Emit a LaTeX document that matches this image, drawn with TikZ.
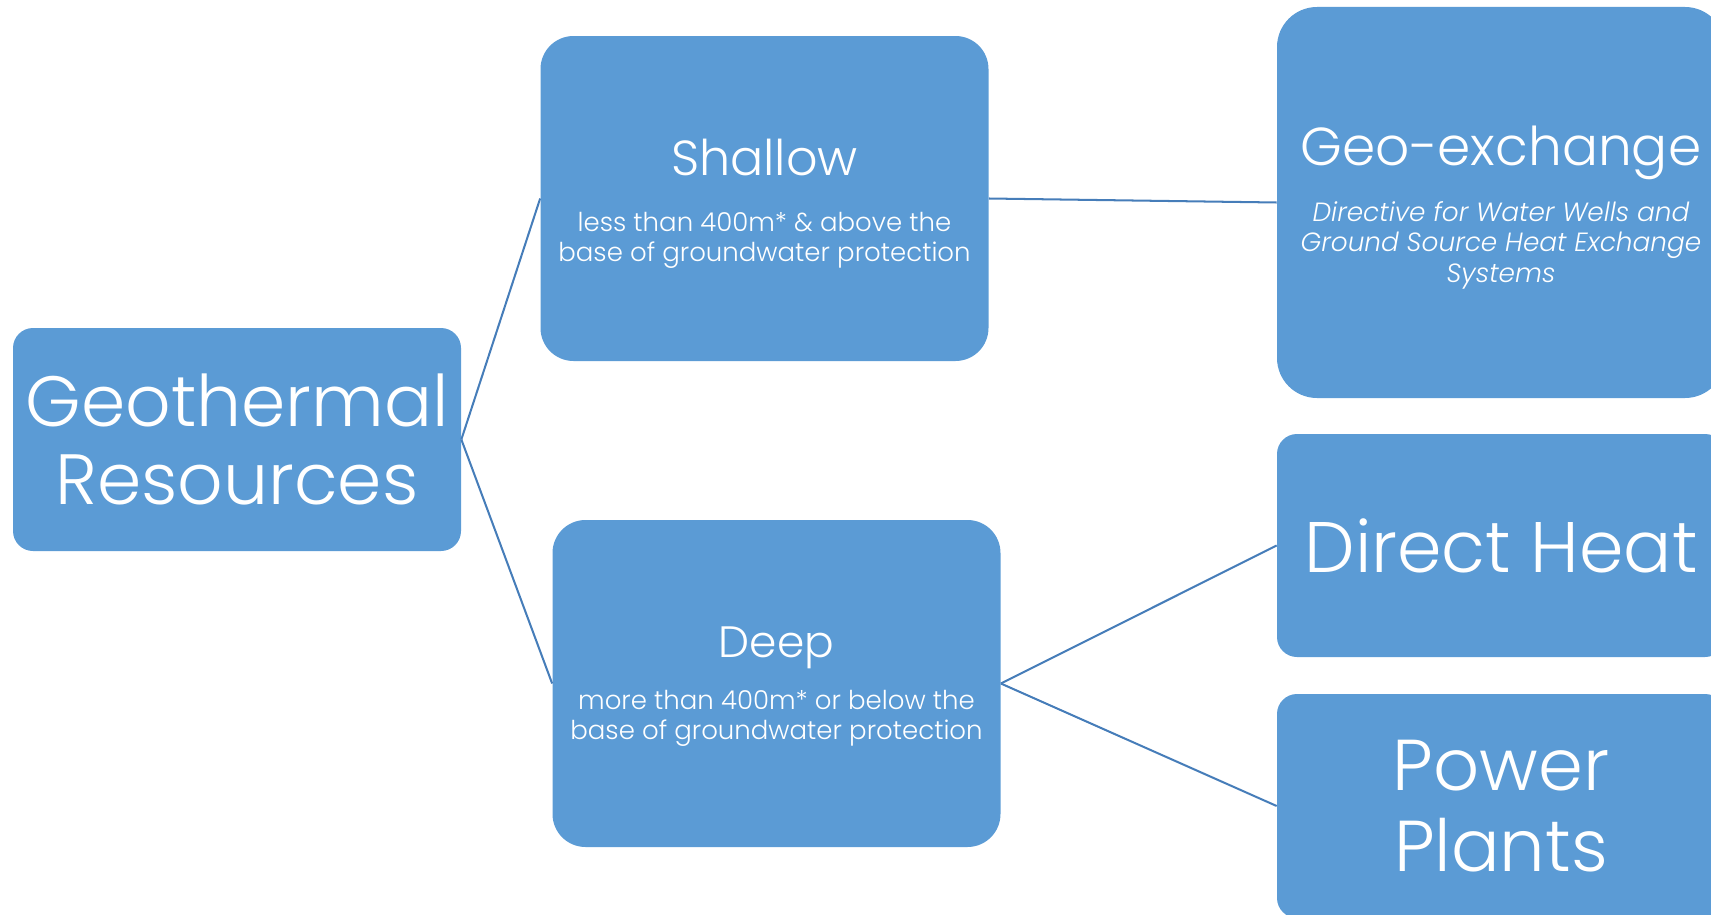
\documentclass[tikz,border=0pt]{standalone}
\usepackage{fontspec}
\setmainfont{Poppins}[UprightFont=* Light,ItalicFont=* Light Italic]
\definecolor{gtblue}{RGB}{91,155,213}
\definecolor{gtline}{RGB}{70,125,185}
\newcommand{\headfont}[1]{\fontsize{#1}{#1}\selectfont}
\usetikzlibrary{positioning}

\begin{document}
\lineskiplimit=-1000pt
\begin{tikzpicture}[
    box/.style={fill=gtblue,text=white,align=center,inner sep=0pt,
                minimum width=8.96cm},
    subfont/.style={font=\fontsize{14.8}{17.3}\selectfont},
    link/.style={draw=gtline,line width=1.15pt}]
  \useasboundingbox (0,0) rectangle (34.22,-18.3);

  \node[box,rounded corners=0.4cm,minimum height=4.46cm,
        font=\fontsize{40.5}{44.4}\selectfont]
        (geo) at (4.74,-8.79) {Geothermal\\Resources};

  \node[box,rounded corners=0.66cm,minimum height=6.5cm,subfont]
        (shallow) at (15.29,-3.97)
        {{\headfont{28}\rule{0pt}{27pt}Shallow}\\[14.2pt]less than 400m* \& above the\\base of groundwater protection};
  \node[box,rounded corners=0.66cm,minimum height=6.54cm,subfont]
        (deep) at (15.53,-13.67)
        {{\headfont{25}\rule{0pt}{21pt}Deep}\\[12pt]more than 400m* or below the\\base of groundwater protection};

  \node[box,rounded corners=0.8cm,minimum height=7.82cm,
        font=\fontsize{15}{17.4}\selectfont\itshape]
        (gex) at (30.02,-4.05)
        {{\headfont{30.4}\upshape\rule{0pt}{28pt}Geo-exchange}\\[14.5pt]Directive for Water Wells and\\Ground Source Heat Exchange\\Systems};
  \node[box,rounded corners=0.4cm,minimum height=4.46cm,
        font=\fontsize{40.7}{46}\selectfont]
        (dheat) at (30.02,-10.91) {Direct Heat};
  \node[box,rounded corners=0.4cm,minimum height=4.48cm,
        font=\fontsize{41}{46}\selectfont]
        (power) at (30.02,-16.12) {Power\\Plants};

  \draw[link] (geo.east)--(shallow.west);
  \draw[link] (geo.east)--(deep.west);
  \draw[link] (shallow.east)--(gex.west);
  \draw[link] (deep.east)--(dheat.west);
  \draw[link] (deep.east)--(power.west);
\end{tikzpicture}
\end{document}
